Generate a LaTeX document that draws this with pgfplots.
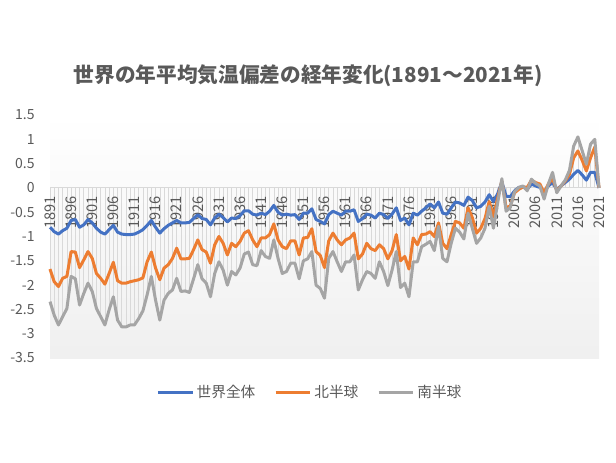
\documentclass[border=0pt]{standalone}
\usepackage{fontspec}
\setmainfont{Noto Sans CJK JP}
\usepackage{pgfplots}
\usepackage{pgfplotstable}
\pgfplotsset{compat=1.18}

\definecolor{cglobal}{HTML}{4472C4}
\definecolor{cnorth}{HTML}{ED7D31}
\definecolor{csouth}{HTML}{A5A5A5}
\definecolor{ctext}{HTML}{595959}
\definecolor{caxis}{HTML}{D9D9D9}

% year, world, north (stacked), south (stacked)
\pgfplotstableread{
year w n s
1891 -0.81 -1.67 -2.34
1892 -0.90 -1.93 -2.62
1893 -0.95 -2.03 -2.82
1894 -0.88 -1.86 -2.65
1895 -0.83 -1.82 -2.48
1896 -0.67 -1.31 -1.82
1897 -0.65 -1.32 -1.87
1898 -0.81 -1.64 -2.41
1899 -0.76 -1.48 -2.17
1900 -0.65 -1.31 -1.96
1901 -0.72 -1.45 -2.13
1902 -0.83 -1.76 -2.48
1903 -0.91 -1.86 -2.65
1904 -0.95 -1.98 -2.82
1905 -0.86 -1.76 -2.51
1906 -0.77 -1.53 -2.24
1907 -0.91 -1.91 -2.72
1908 -0.95 -1.96 -2.86
1909 -0.96 -1.96 -2.86
1910 -0.96 -1.93 -2.82
1911 -0.95 -1.91 -2.82
1912 -0.91 -1.89 -2.69
1913 -0.86 -1.85 -2.53
1914 -0.77 -1.52 -2.20
1915 -0.67 -1.32 -1.82
1916 -0.81 -1.65 -2.31
1917 -0.93 -1.89 -2.72
1918 -0.84 -1.65 -2.31
1919 -0.77 -1.58 -2.17
1920 -0.72 -1.45 -2.10
1921 -0.67 -1.24 -1.86
1922 -0.72 -1.46 -2.13
1923 -0.72 -1.46 -2.12
1924 -0.71 -1.45 -2.15
1925 -0.63 -1.27 -1.87
1926 -0.55 -1.07 -1.58
1927 -0.63 -1.27 -1.87
1928 -0.65 -1.32 -1.96
1929 -0.76 -1.55 -2.24
1930 -0.62 -1.17 -1.76
1931 -0.54 -1.00 -1.52
1932 -0.61 -1.14 -1.69
1933 -0.70 -1.38 -2.00
1934 -0.62 -1.14 -1.72
1935 -0.63 -1.21 -1.79
1936 -0.57 -1.10 -1.65
1937 -0.47 -0.93 -1.36
1938 -0.47 -0.88 -1.32
1939 -0.54 -1.07 -1.58
1940 -0.56 -1.21 -1.60
1941 -0.52 -1.03 -1.29
1942 -0.55 -1.03 -1.41
1943 -0.48 -0.96 -1.45
1944 -0.36 -0.74 -1.07
1945 -0.50 -1.07 -1.45
1946 -0.56 -1.21 -1.76
1947 -0.54 -1.25 -1.72
1948 -0.56 -1.09 -1.55
1949 -0.55 -1.09 -1.55
1950 -0.65 -1.38 -1.87
1951 -0.52 -1.03 -1.50
1952 -0.52 -1.02 -1.46
1953 -0.43 -0.84 -1.31
1954 -0.65 -1.31 -2.00
1955 -0.69 -1.39 -2.07
1956 -0.74 -1.64 -2.27
1957 -0.55 -1.09 -1.45
1958 -0.48 -0.93 -1.31
1959 -0.52 -1.07 -1.52
1960 -0.56 -1.17 -1.72
1961 -0.48 -1.07 -1.52
1962 -0.48 -1.03 -1.52
1963 -0.45 -0.93 -1.38
1964 -0.69 -1.46 -2.10
1965 -0.63 -1.36 -1.89
1966 -0.54 -1.14 -1.72
1967 -0.56 -1.25 -1.76
1968 -0.62 -1.29 -1.86
1969 -0.52 -1.17 -1.52
1970 -0.55 -1.25 -1.72
1971 -0.63 -1.46 -2.01
1972 -0.54 -1.29 -1.69
1973 -0.41 -0.96 -1.31
1974 -0.67 -1.50 -2.05
1975 -0.62 -1.41 -1.96
1976 -0.76 -1.67 -2.24
1977 -0.52 -1.03 -1.52
1978 -0.56 -1.17 -1.52
1979 -0.48 -0.96 -1.21
1980 -0.41 -0.95 -1.16
1981 -0.33 -0.90 -1.10
1982 -0.41 -1.00 -1.29
1983 -0.29 -0.72 -0.79
1984 -0.52 -1.14 -1.45
1985 -0.54 -1.25 -1.52
1986 -0.41 -0.96 -1.14
1987 -0.29 -0.69 -0.83
1988 -0.31 -0.72 -0.91
1989 -0.36 -0.83 -1.05
1990 -0.19 -0.41 -0.52
1991 -0.26 -0.61 -0.83
1992 -0.41 -0.93 -1.14
1993 -0.38 -0.83 -1.03
1994 -0.29 -0.63 -0.83
1995 -0.14 -0.28 -0.38
1996 -0.28 -0.59 -0.83
1997 -0.12 -0.21 -0.31
1998 0.12 0.14 0.19
1999 -0.17 -0.41 -0.48
2000 -0.18 -0.37 -0.40
2001 -0.06 -0.10 -0.08
2002 0.01 -0.03 0.01
2003 0.02 0.02 0.04
2004 -0.03 0.01 -0.06
2005 0.08 0.16 0.18
2006 0.04 0.11 0.09
2007 0.01 0.08 0.04
2008 -0.08 -0.10 -0.23
2009 0.04 0.08 0.08
2010 0.11 0.20 0.32
2011 -0.03 -0.06 -0.10
2012 0.04 0.04 0.04
2013 0.11 0.14 0.16
2014 0.18 0.28 0.36
2015 0.28 0.62 0.86
2016 0.36 0.76 1.05
2017 0.27 0.57 0.77
2018 0.16 0.35 0.49
2019 0.32 0.62 0.90
2020 0.32 0.84 1.00
2021 0 0 0
}\temps

\begin{document}
\begin{tikzpicture}
\node[font=\bfseries\fontsize{15.5}{18}\selectfont, text=ctext] at (231pt,290pt)
  {世界の年平均気温偏差の経年変化(1891～2021年)};
\begin{axis}[
  set layers=standard,
  at={(37.5pt,78pt)}, anchor=south west,
  scale only axis, width=411.75pt, height=182.25pt,
  xmin=1891, xmax=2021, ymin=-3.5, ymax=1.5,
  axis x line=middle, axis y line=left,
  hide obscured x ticks=false, hide obscured y ticks=false,
  x axis line style={-, draw=caxis, line width=0.75pt},
  y axis line style={draw=none},
  major tick length=0pt,
  xtick={1891,1896,...,2021},
  ytick={-3.5,-3,...,1.5},
  /pgf/number format/assume math mode=true,
  /pgf/number format/1000 sep={},
  xticklabel shift=5pt,
  xticklabel style={rotate=90, anchor=east, inner sep=1pt,
    font=\fontsize{11}{13}\selectfont, text=ctext},
  yticklabel style={anchor=east, xshift=-8pt, font=\fontsize{10.5}{12}\selectfont, text=ctext},
  axis background/.style={top color=white, bottom color=black!6},
  clip=false,
  legend style={at={(0.474,-0.14)}, anchor=center, draw=none, fill=none,
    legend columns=3, font=\fontsize{11}{13}\selectfont, text=ctext,
    /tikz/every even column/.append style={column sep=12pt}},
  legend image code/.code={\draw[#1] (0pt,0pt) -- (26pt,0pt);},
  every axis plot/.append style={line join=round}
]
\addplot[ycomb, draw=black!15, line width=0.45pt, forget plot, on layer=axis background]
  table[x=year,y=n] {\temps};
\addplot[ycomb, draw=black!15, line width=0.45pt, forget plot, on layer=axis background]
  table[x=year,y=s] {\temps};
\addplot[cglobal, line width=2.25pt] table[x=year,y=w] {\temps};
\addlegendentry{世界全体}
\addplot[cnorth, line width=2.25pt] table[x=year,y=n] {\temps};
\addlegendentry{北半球}
\addplot[csouth, line width=2.25pt] table[x=year,y=s] {\temps};
\addlegendentry{南半球}
\end{axis}
\path (0,0) rectangle (462pt,346.5pt);
\end{tikzpicture}
\end{document}
